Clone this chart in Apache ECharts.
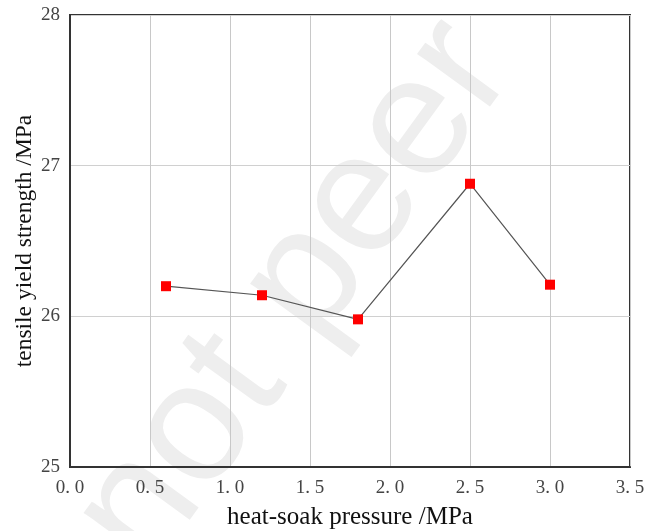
<!DOCTYPE html>
<html>
<head>
<meta charset="utf-8">
<script src="https://cdn.jsdelivr.net/npm/echarts@6/dist/echarts.min.js"></script>
<style>
  html, body { margin: 0; padding: 0; background: #fff; }
  #chart { width: 645px; height: 531px; }
</style>
</head>
<body>
<div id="chart"></div>
<script>
// Heat-soak pressure (MPa) vs. tensile yield strength (MPa)
const pressure = [0.6, 1.2, 1.8, 2.5, 3.0];
const yieldStrength = [26.20, 26.14, 25.98, 26.88, 26.21];
const xTicks = [0, 0.5, 1.0, 1.5, 2.0, 2.5, 3.0, 3.5];
const yTicks = [25, 26, 27, 28];

const serif = '"Liberation Serif", "DejaVu Serif", serif';

const chart = echarts.init(document.getElementById('chart'), null, { renderer: 'canvas' });

chart.setOption({
  backgroundColor: '#ffffff',
  animation: false,
  graphic: [{
    type: 'text',
    z: -10,
    x: 295,
    y: 295,
    rotation: 54 * Math.PI / 180,
    silent: true,
    style: {
      text: 'not peer',
      fill: '#eeeeee',
      font: '170px "Liberation Sans", Arial, sans-serif',
      textAlign: 'center',
      textVerticalAlign: 'middle'
    }
  }],
  grid: {
    left: 70, right: 15, top: 15, bottom: 64,
    containLabel: false,
    outerBoundsMode: 'none',
    show: true,
    borderColor: '#333',
    borderWidth: 2,
    backgroundColor: 'transparent'
  },
  xAxis: {
    type: 'value',
    min: xTicks[0],
    max: xTicks[xTicks.length - 1],
    interval: 0.5,
    name: 'heat-soak pressure /MPa',
    nameLocation: 'middle',
    nameGap: 38,
    nameMoveOverlap: false,
    nameTextStyle: { fontFamily: serif, fontSize: 25, color: '#111' },
    axisLine: { show: true, lineStyle: { color: '#333', width: 2 } },
    axisTick: { show: false },
    axisLabel: {
      margin: 12,
      fontFamily: serif,
      fontSize: 19,
      color: '#444',
      formatter: v => v.toFixed(1).replace('.', '. ')
    },
    splitLine: { show: true, lineStyle: { color: '#c8c8c8', width: 1 } }
  },
  yAxis: {
    type: 'value',
    min: yTicks[0],
    max: yTicks[yTicks.length - 1],
    interval: 1,
    name: 'tensile yield strength /MPa',
    nameLocation: 'middle',
    nameGap: 33,
    nameMoveOverlap: false,
    nameTextStyle: { fontFamily: serif, fontSize: 23.5, color: '#111' },
    axisLine: { show: true, lineStyle: { color: '#333', width: 2 } },
    axisTick: { show: false },
    axisLabel: {
      margin: 10,
      fontFamily: serif,
      fontSize: 19,
      color: '#444'
    },
    splitLine: { show: true, lineStyle: { color: '#d0d0d0', width: 1 } }
  },
  series: [{
    type: 'line',
    data: pressure.map((p, i) => [p, yieldStrength[i]]),
    symbol: 'rect',
    symbolSize: 10,
    itemStyle: { color: '#ff0000' },
    lineStyle: { color: '#555555', width: 1.2 },
    z: 5
  }]
});
</script>
</body>
</html>
